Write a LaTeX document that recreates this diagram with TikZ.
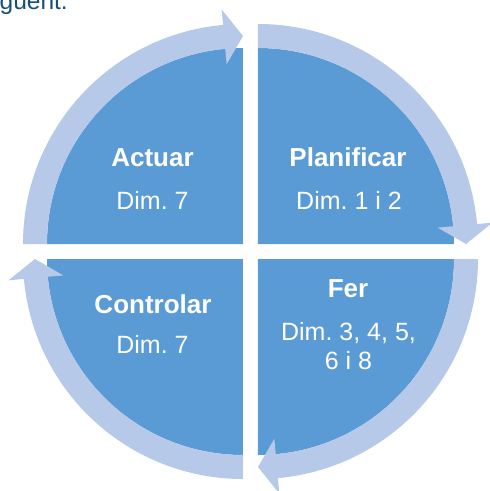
\documentclass[tikz,border=0pt]{standalone}
\usepackage{fontspec}
\setmainfont{Liberation Sans}
\frenchspacing
\definecolor{cycdark}{RGB}{91,155,213}
\definecolor{cyclight}{RGB}{182,201,232}
\definecolor{introtext}{RGB}{22,80,120}
\tikzset{
  cyc_title/.style = {anchor=base, inner sep=0pt, white,
    font=\fontsize{26}{30}\selectfont\bfseries},% titol del quadrant
  cyc_dim/.style = {anchor=base, inner sep=0pt, white, align=center,
    font=\fontsize{25}{29}\selectfont},% dimensions del quadrant
  cyc_sector/.style = {fill=cycdark},% quadrant fosc
  cyc_arrow/.style = {fill=cyclight}% fletxa clara
}

\begin{document}
\begin{tikzpicture}[x=1pt,y=1pt]
  \useasboundingbox (-250.5,-239.5) rectangle (239.5,251.5);
  \node [anchor=base east, inner sep=0pt, introtext,
    font=\fontsize{24.5}{28}\selectfont] (intro) at (-182.5,242.5) {següent.};

  \foreach \cx/\cy/\a in {-7.5/7.5/180, 7.5/7.5/90, 7.5/-7.5/0, -7.5/-7.5/-90}
  {
    \pgfmathsetmacro\b{\a-84.8}
    \pgfmathsetmacro\e{\a-90}
    \begin{scope}[shift={(\cx,\cy)}]
      \fill [cyc_sector] (0,0) -- (\a:196)
        arc[start angle=\a, end angle=\e, radius=196] -- cycle;
      \fill [cyc_arrow] (\a:220) arc[start angle=\a, end angle=\b, radius=220]
        -- (\b:235.5) -- (\e:208) -- (\b:180.5) -- (\b:196)
        arc[start angle=\b, end angle=\a, radius=196] -- cycle;
    \end{scope}
  }

  \node [cyc_title] (t_act) at (-98,85.5) {Actuar};
  \node [cyc_dim] (d_act) at (-98,42.5) {Dim. 7};
  \node [cyc_title] (t_pla) at (97.5,85.5) {Planificar};
  \node [cyc_dim] (d_pla) at (98.5,42.5) {Dim. 1 i 2};
  \node [cyc_title] (t_fer) at (97.5,-45.5) {Fer};
  \node [cyc_dim] (d_fer) at (98,-117.5) {Dim. 3, 4, 5,\\6 i 8};
  \node [cyc_title] (t_con) at (-97.5,-61.5) {Controlar};
  \node [cyc_dim] (d_con) at (-98,-101.5) {Dim. 7};
\end{tikzpicture}
\end{document}
